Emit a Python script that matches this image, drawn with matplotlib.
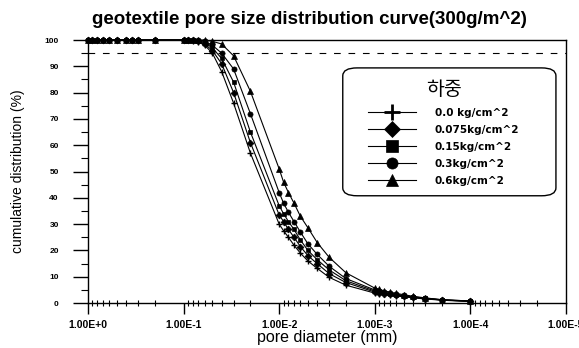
import numpy as np
import matplotlib
matplotlib.use("Agg")
import matplotlib.pyplot as plt
from matplotlib.lines import Line2D
from matplotlib.patches import FancyBboxPatch
from matplotlib.ticker import LogLocator, NullFormatter, FixedLocator
from matplotlib.font_manager import FontProperties

plt.rcParams['font.family'] = ['Liberation Sans', 'Noto Sans CJK KR', 'DejaVu Sans']

# pore diameter (mm), shared by all load cases
diameter = [1.0, 0.9, 0.8, 0.7, 0.6, 0.5, 0.4, 0.35, 0.3, 0.2,
            0.1, 0.09, 0.08, 0.07, 0.06, 0.05, 0.04, 0.03, 0.02,
            0.01, 0.009, 0.008, 0.007, 0.006, 0.005, 0.004, 0.003, 0.002,
            0.001, 0.0009, 0.0008, 0.0007, 0.0006, 0.0005, 0.0004, 0.0003, 0.0002, 0.0001]

top = [100] * 10
load_00 = top + [100, 100, 99.8, 99.3, 98, 95, 88, 76, 57,
                 30, 27.5, 25, 22, 19, 16, 13.2, 9.8, 6.8,
                 3.8, 3.5, 3.3, 3.0, 2.7, 2.4, 2.0, 1.6, 1.1, 0.6]
load_0075 = top + [100, 100, 100, 99.6, 98.5, 96, 91, 80, 61,
                   33.5, 31, 28, 25, 21.5, 18, 15, 11.2, 7.8,
                   4.2, 3.9, 3.6, 3.3, 2.9, 2.6, 2.2, 1.7, 1.2, 0.7]
load_015 = top + [100, 100, 100, 99.8, 99, 97, 93, 84, 65,
                  37, 34, 31, 28, 24, 20, 16.5, 12.6, 8.5,
                  4.6, 4.2, 3.9, 3.5, 3.1, 2.7, 2.3, 1.8, 1.2, 0.7]
load_03 = top + [100, 100, 100, 100, 99.5, 98, 95, 89, 72,
                 42, 38, 34.5, 31, 27, 22.5, 18.5, 14, 9.3,
                 5.0, 4.6, 4.2, 3.8, 3.4, 2.9, 2.4, 1.9, 1.3, 0.8]
load_06 = top + [100, 100, 100, 100, 100, 99.5, 98.5, 94, 80.5,
                 51, 46, 42, 38, 33, 28.6, 23, 17.4, 11.5,
                 5.7, 5.2, 4.7, 4.2, 3.7, 3.2, 2.6, 2.0, 1.3, 0.8]

labels = ['0.0 kg/cm^2', '0.075kg/cm^2', '0.15kg/cm^2', '0.3kg/cm^2', '0.6kg/cm^2']
series = [load_00, load_0075, load_015, load_03, load_06]
markers = ['+', 'D', 's', 'o', '^']
msizes = [4.5, 3.5, 3.5, 3.7, 4]

fig = plt.figure(figsize=(5.79, 3.48), dpi=100)
ax = fig.add_axes([0.152, 0.129, 0.8255, 0.756])

for vals, m, ms in zip(series, markers, msizes):
    ax.plot(diameter, vals, color='black', lw=0.8, marker=m, ms=ms,
            mew=1.0 if m == '+' else 0.5, clip_on=False)

ax.axhline(95, color='black', lw=0.8, ls=(0, (6, 7)))

ax.set_xscale('log')
ax.set_xlim(1, 1e-5)
ax.set_ylim(0, 100)

ax.xaxis.set_major_locator(FixedLocator([1, 1e-1, 1e-2, 1e-3, 1e-4, 1e-5]))
ax.set_xticklabels(['1.00E+0', '1.00E-1', '1.00E-2', '1.00E-3', '1.00E-4', '1.00E-5'],
                   fontsize=7.5, fontweight='bold')
ax.xaxis.set_minor_locator(LogLocator(base=10, subs=np.arange(2, 10)))
ax.xaxis.set_minor_formatter(NullFormatter())
ax.tick_params(axis='x', which='major', direction='out', length=8, width=1, pad=4)
ax.tick_params(axis='x', which='minor', direction='inout', length=5, width=0.8)

ax.set_yticks(np.arange(0, 101, 10))
ax.set_yticklabels([str(v) for v in range(0, 101, 10)], fontsize=6, fontweight='bold')
ax.set_yticks(np.arange(5, 100, 10), minor=True)
ax.tick_params(axis='y', which='major', direction='out', length=11, width=1, pad=10)
ax.tick_params(axis='y', which='minor', direction='out', length=5, width=0.8)

for s in ax.spines.values():
    s.set_linewidth(1.0)

ax.set_xlabel('pore diameter (mm)', fontsize=11.5, labelpad=0)
ax.set_ylabel('cumulative distribution (%)', fontsize=10, labelpad=14)
fig.suptitle('geotextile pore size distribution curve(300g/m^2)', x=0.534, y=0.968,
             fontsize=13.5, fontweight='bold')

# rounded legend frame
box = FancyBboxPatch((0.545, 0.42), 0.422, 0.462, boxstyle='round,pad=0.012,rounding_size=0.03',
                     transform=ax.transAxes, facecolor='white', edgecolor='black', lw=1.0,
                     zorder=4)
ax.add_patch(box)

handles = [Line2D([], [], color='black', lw=0.8, marker=m, ms=8 if m != '+' else 11,
                  mew=2 if m == '+' else 0.5) for m in markers]
leg = ax.legend(handles, labels, title='하중', loc='upper left',
                bbox_to_anchor=(0.586, 0.85), frameon=False,
                handlelength=4.6, handletextpad=1.8,
                labelspacing=0.68, borderpad=0, borderaxespad=0,
                prop=FontProperties(family=['DejaVu Sans'], weight='bold', size=7.5),
                title_fontproperties=FontProperties(family=['Noto Sans CJK KR'], size=14))
leg.set_zorder(5)
leg._legend_box.align = 'center'

fig.savefig('out.png', dpi=100)
